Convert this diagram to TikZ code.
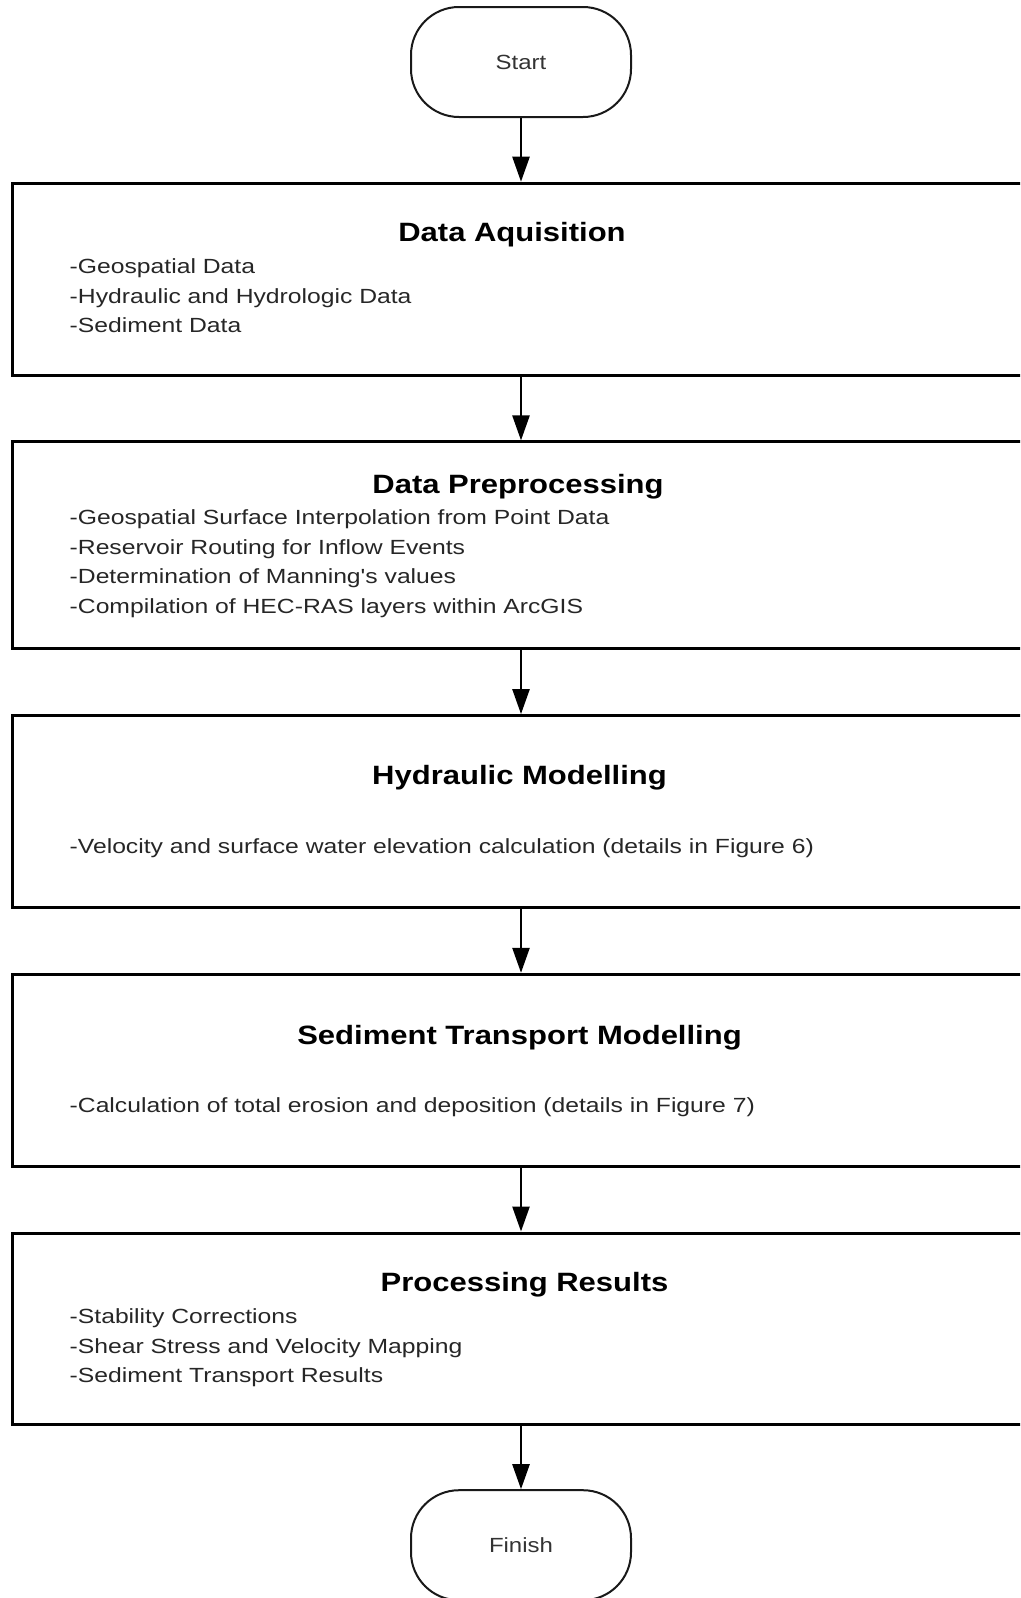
\documentclass[tikz,border=0pt]{standalone}
\usepackage{fontspec}
\setmainfont{Liberation Sans}[FakeStretch=1.17]
\newfontfamily\bodyfont{Liberation Sans}[FakeStretch=1.205]
\usetikzlibrary{arrows.meta,positioning}
\tikzset{
  term/.style    = {rectangle, rounded corners=48pt, draw=black!90, line width=2pt,
                    minimum width=220pt, minimum height=110pt,
                    font=\fontsize{20.5}{24}\selectfont, text=black!80},
  stage/.style   = {rectangle, draw=black, line width=3pt,
                    minimum width=1018pt, inner sep=0pt},
  stitle/.style  = {anchor=base, inner sep=0pt,
                    font=\fontsize{26.5}{30}\selectfont\bfseries},
  sbody/.style   = {anchor=north west, align=left, inner sep=0pt, text=black!85,
                    font=\bodyfont\fontsize{20.5}{29.6}\selectfont},
  ar/.style      = {-{Triangle[length=25pt,width=17pt]}, draw=black, line width=2.5pt}
}
\begin{document}
\begin{tikzpicture}[node distance=63.7pt]
    \useasboundingbox (0,0) rectangle (1020pt,-1598pt);
    \clip (0,0) rectangle (1020pt,-1598pt);
    \node[term] (start) at (521pt,-62pt) {Start};
    \node[stage, minimum height=192pt, below=of start] (acq) {};
    \node[stage, minimum height=207pt, below=of acq] (prep) {};
    \node[stage, minimum height=192pt, below=of prep] (hyd) {};
    \node[stage, minimum height=192pt, below=of hyd] (sed) {};
    \node[stage, minimum height=191pt, below=of sed] (res) {};
    \node[term, below=of res] (finish) {Finish};
    % titles and item lists
    \node[stitle] (acq-t) at ([xshift=-9pt,yshift=-60pt]acq.north) {Data Aquisition};
    \node[sbody] (acq-b) at ([xshift=59pt,yshift=-77pt]acq.north west)
      {-Geospatial Data\\-Hydraulic and Hydrologic Data\\-Sediment Data};
    \node[stitle] (prep-t) at ([xshift=-3pt,yshift=-53pt]prep.north) {Data Preprocessing};
    \node[sbody] (prep-b) at ([xshift=59pt,yshift=-69pt]prep.north west)
      {-Geospatial Surface Interpolation from Point Data\\-Reservoir Routing for Inflow Events\\-Determination of Manning's values\\-Compilation of HEC-RAS layers within ArcGIS};
    \node[stitle] (hyd-t) at ([xshift=-1.5pt,yshift=-70pt]hyd.north) {Hydraulic Modelling};
    \node[sbody] (hyd-b) at ([xshift=59pt,yshift=-124pt]hyd.north west)
      {-Velocity and surface water elevation calculation (details in Figure 6)};
    \node[stitle] (sed-t) at ([xshift=-1.5pt,yshift=-72pt]sed.north) {Sediment Transport Modelling};
    \node[sbody] (sed-b) at ([xshift=59pt,yshift=-125pt]sed.north west)
      {-Calculation of total erosion and deposition (details in Figure 7)};
    \node[stitle] (res-t) at ([xshift=3.5pt,yshift=-60pt]res.north) {Processing Results};
    \node[sbody] (res-b) at ([xshift=59pt,yshift=-77pt]res.north west)
      {-Stability Corrections\\-Shear Stress and Velocity Mapping\\-Sediment Transport Results};
    \draw[ar] (start) -- (acq); \draw[ar] (acq) -- (prep); \draw[ar] (prep) -- (hyd);
    \draw[ar] (hyd) -- (sed); \draw[ar] (sed) -- (res); \draw[ar] (res) -- (finish);
\end{tikzpicture}
\end{document}
